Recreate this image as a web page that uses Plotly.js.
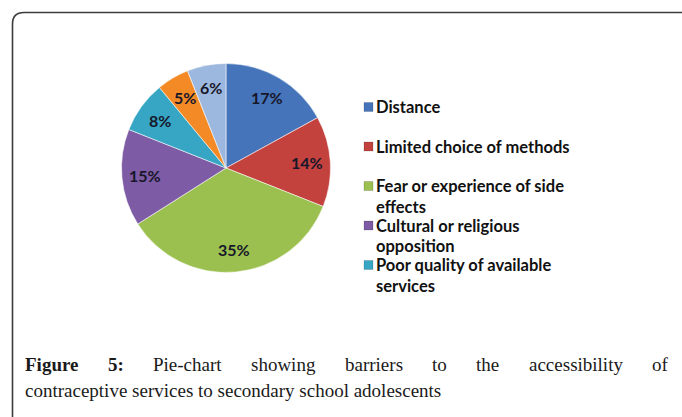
<!DOCTYPE html>
<html>
<head>
<meta charset="utf-8">
<script src="https://cdn.plot.ly/plotly-3.0.1.min.js"></script>
<style>
  html, body { margin: 0; padding: 0; background: #ffffff; }
  #chart { width: 682px; height: 417px; }
</style>
</head>
<body>
<div id="chart"></div>
<script>
// ---- data ----
var categories = [
  "Distance",
  "Limited choice of methods",
  "Fear or experience of side effects",
  "Cultural or religious opposition",
  "Poor quality of available services",
  "Cost of services",
  "Other barriers"
];
var percentValues = [17, 14, 35, 15, 8, 5, 6];
var sliceColors = ["#4574BA", "#C4423E", "#9BC04F", "#7E5BA5", "#36A6C4", "#F38A26", "#9DB8DE"];
var legendShownCount = 5; // legend in the reference is cut after 5 entries
var captionBold = "Figure 5:";
var captionLine1 = "Pie-chart showing barriers to the accessibility of";
var captionLine2 = "contraceptive services to secondary school adolescents";

// ---- layout helpers ----
var W = 682, H = 417;
function px(x) { return x / W; }
function py(y) { return 1 - y / H; }
var canvas = document.createElement("canvas");
var ctx = canvas.getContext("2d");
function measure(text, font) { ctx.font = font; return ctx.measureText(text).width; }

// pie geometry (pixels)
var PIE = { cx: 226, cy: 168, r: 104.5 };

var LEG_FAMILY = "Lato";
var legSize = 16;
var wRef = measure("Limited choice of methods", "bold " + legSize + "px " + LEG_FAMILY);
legSize = Math.max(12, Math.min(18, legSize * 194 / wRef));
var legFont = "bold " + legSize.toFixed(2) + "px " + LEG_FAMILY;
var legMax = 206;

function wrap(text) {
  var words = text.split(" "), lines = [], cur = "";
  words.forEach(function (w) {
    var t = cur ? cur + " " + w : w;
    if (cur && measure(t, legFont) > legMax) { lines.push(cur); cur = w; }
    else cur = t;
  });
  if (cur) lines.push(cur);
  return lines;
}

var annotations = [];
var shapes = [];

// frame with rounded top-left corner
shapes.push({
  type: "path", xref: "paper", yref: "paper",
  path: "M " + px(684) + " " + py(12.5) + " L " + px(24) + " " + py(12.5) +
        " Q " + px(12.5) + " " + py(12.5) + " " + px(12.5) + " " + py(24) +
        " L " + px(12.5) + " " + py(419),
  line: { color: "#3c3c3c", width: 1.6 }
});

// data labels placed Excel-style (~0.78 of the radius, at each slice's mid-angle)
var totalV = percentValues.reduce(function (a, b) { return a + b; }, 0);
var cum = 0;
percentValues.forEach(function (v) {
  var mid = (cum + v / 2) / totalV * 2 * Math.PI;
  cum += v;
  var rr = PIE.r * 0.78;
  annotations.push({
    xref: "paper", yref: "paper",
    x: px(PIE.cx + rr * Math.sin(mid)), y: py(PIE.cy - rr * Math.cos(mid)),
    xanchor: "center", yanchor: "middle", showarrow: false,
    text: "<b>" + Math.round(v / totalV * 100) + "%</b>",
    font: { family: "Lato", size: 16, color: "#17172a" }
  });
});

// custom legend (first 5 entries)
for (var i = 0; i < legendShownCount; i++) {
  var y0 = 107 + i * 39.5;
  shapes.push({
    type: "rect", xref: "paper", yref: "paper",
    x0: px(364), x1: px(373), y0: py(y0 - 4.5), y1: py(y0 + 4.5),
    fillcolor: sliceColors[i], line: { color: "rgba(0,0,0,0.25)", width: 0.6 }
  });
  var lines = wrap(categories[i]);
  lines.forEach(function (ln, k) {
    annotations.push({
      xref: "paper", yref: "paper", x: px(374), y: py(y0 + k * 20.5),
      xanchor: "left", yanchor: "middle", showarrow: false, text: "<b>" + ln + "</b>",
      font: { family: LEG_FAMILY, size: legSize, color: "#111111" }
    });
  });
}

// caption: first line justified
var CAP_FAMILY = "Liberation Serif";
var capSize = 19;
var words1 = captionBold.split(" ").map(function (w) { return { t: w, b: true }; })
  .concat(captionLine1.split(" ").map(function (w) { return { t: w, b: false }; }));
var total = 0;
words1.forEach(function (w) {
  w.w = measure(w.t, (w.b ? "bold " : "") + capSize + "px '" + CAP_FAMILY + "'");
  total += w.w;
});
var left = 24, right = 667;
var gap = (right - left - total) / (words1.length - 1);
var xPos = left;
words1.forEach(function (w) {
  annotations.push({
    xref: "paper", yref: "paper", x: px(xPos - 1), y: py(364),
    xanchor: "left", yanchor: "middle", showarrow: false,
    text: w.b ? "<b>" + w.t + "</b>" : w.t,
    font: { family: CAP_FAMILY, size: capSize, color: "#1a1a1a" }
  });
  xPos += w.w + gap;
});
annotations.push({
  xref: "paper", yref: "paper", x: px(left - 1), y: py(390),
  xanchor: "left", yanchor: "middle", showarrow: false, text: captionLine2,
  font: { family: CAP_FAMILY, size: capSize, color: "#1a1a1a" }
});

var trace = {
  type: "pie",
  labels: categories,
  values: percentValues,
  sort: false,
  direction: "clockwise",
  rotation: 0,
  marker: { colors: sliceColors, line: { color: "rgba(255,255,255,0.55)", width: 1 } },
  textinfo: "none",
  hoverinfo: "label+percent",
  domain: { x: [px(PIE.cx - PIE.r), px(PIE.cx + PIE.r)], y: [py(PIE.cy + PIE.r), py(PIE.cy - PIE.r)] },
  showlegend: false
};

var layout = {
  width: W, height: H,
  margin: { l: 0, r: 0, t: 0, b: 0 },
  paper_bgcolor: "#ffffff",
  showlegend: false,
  shapes: shapes,
  annotations: annotations
};

Plotly.newPlot("chart", [trace], layout, { displayModeBar: false, staticPlot: true });
</script>
</body>
</html>
